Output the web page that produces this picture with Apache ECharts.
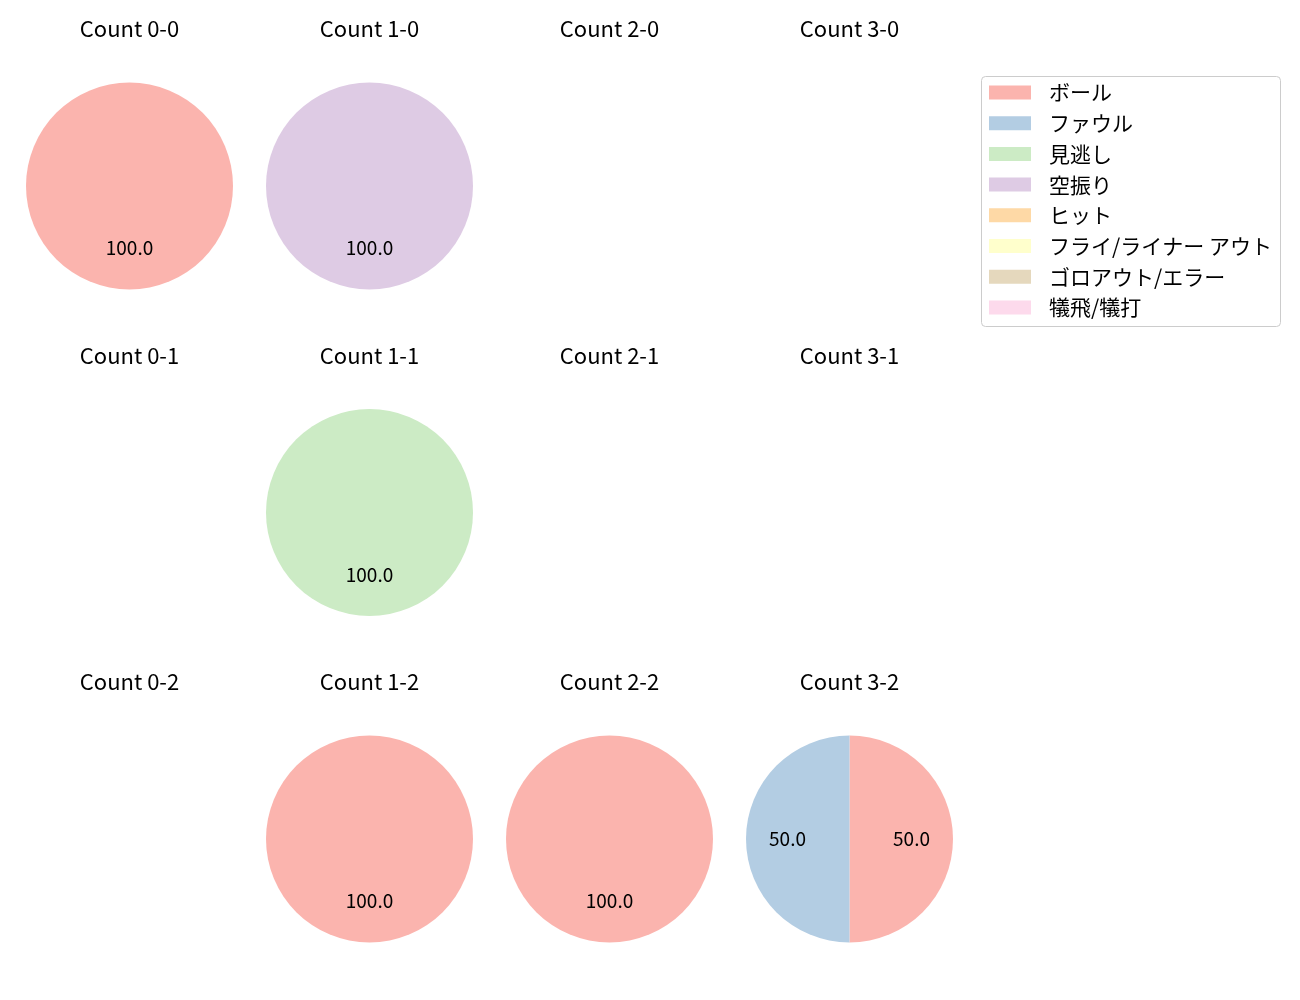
<!DOCTYPE html>
<html>
<head>
<meta charset="utf-8">
<script src="https://cdn.jsdelivr.net/npm/echarts@6/dist/echarts.min.js"></script>
<style>
  html, body { margin: 0; padding: 0; background: #fff; }
  #container { width: 1300px; height: 1000px; }
</style>
</head>
<body>
<div id="container"></div>
<script>
var categories = ['ボール', 'ファウル', '見逃し', '空振り', 'ヒット', 'フライ/ライナー アウト', 'ゴロアウト/エラー', '犠飛/犠打'];
var colors = ['#fbb4ae', '#b3cde3', '#ccebc5', '#decbe4', '#fed9a6', '#ffffcc', '#e5d8bd', '#fddaec'];

// one pie per count, row by row (strikes 0..2), columns balls 0..3
var counts = ['0-0', '1-0', '2-0', '3-0', '0-1', '1-1', '2-1', '3-1', '0-2', '1-2', '2-2', '3-2'];

// share (%) of each result per count, same order as counts
var ball       = [100, 0, 0, 0, 0, 0, 0, 0, 0, 100, 100, 50];
var foul       = [0, 0, 0, 0, 0, 0, 0, 0, 0, 0, 0, 50];
var called     = [0, 0, 0, 0, 0, 100, 0, 0, 0, 0, 0, 0];
var swinging   = [0, 100, 0, 0, 0, 0, 0, 0, 0, 0, 0, 0];
var hit        = [0, 0, 0, 0, 0, 0, 0, 0, 0, 0, 0, 0];
var flyOut     = [0, 0, 0, 0, 0, 0, 0, 0, 0, 0, 0, 0];
var groundOut  = [0, 0, 0, 0, 0, 0, 0, 0, 0, 0, 0, 0];
var sacrifice  = [0, 0, 0, 0, 0, 0, 0, 0, 0, 0, 0, 0];
var shares = [ball, foul, called, swinging, hit, flyOut, groundOut, sacrifice];

var chart = echarts.init(document.getElementById('container'));

var colX = [129.5, 369.5, 609.5, 849.5];
var rowY = [186, 512.5, 839];
var titleY = [29, 356, 682];
var R = 103.5;
var font = '"Noto Sans CJK JP", "Noto Sans", sans-serif';

var series = [];
var graphics = [];

// legend frame
graphics.push({
    type: 'rect',
    z: 0,
    shape: { x: 981.5, y: 76.5, width: 299, height: 250, r: 4 },
    style: { fill: '#fff', stroke: '#cccccc', lineWidth: 1 }
});

// hidden series so every category appears in the legend
series.push({
    type: 'pie',
    center: [-500, -500],
    radius: [0, 0],
    silent: true,
    stillShowZeroSum: false,
    label: { show: false },
    labelLine: { show: false },
    data: categories.map(function (c, k) {
        return { name: c, value: 0, itemStyle: { color: colors[k] } };
    })
});

counts.forEach(function (cnt, i) {
    var cx = colX[i % 4];
    var cy = rowY[Math.floor(i / 4)];

    graphics.push({
        type: 'text',
        x: cx,
        y: titleY[Math.floor(i / 4)],
        style: {
            text: 'Count ' + cnt,
            font: '22px ' + font,
            fill: '#000',
            textAlign: 'center',
            textVerticalAlign: 'middle'
        }
    });

    var data = [];
    categories.forEach(function (c, k) {
        if (shares[k][i] > 0) {
            data.push({ name: c, value: shares[k][i], itemStyle: { color: colors[k] } });
        }
    });
    if (!data.length) return;

    series.push({
        type: 'pie',
        center: [cx, cy],
        radius: [0, R],
        startAngle: 90,
        clockwise: true,
        animation: false,
        label: { show: false },
        labelLine: { show: false },
        itemStyle: { borderWidth: 0 },
        emphasis: { disabled: true },
        data: data
    });

    // transparent copy, slightly larger, so inside labels sit near 0.6 R
    series.push({
        type: 'pie',
        center: [cx, cy],
        radius: [0, R * 1.14],
        startAngle: 90,
        clockwise: true,
        silent: true,
        animation: false,
        itemStyle: { color: 'rgba(0,0,0,0)', borderWidth: 0 },
        emphasis: { disabled: true },
        label: {
            show: true,
            position: 'inside',
            color: '#000',
            fontSize: 19,
            fontFamily: font,
            formatter: function (p) { return p.percent.toFixed(1); }
        },
        labelLine: { show: false },
        data: data.map(function (d) { return { name: d.name, value: d.value }; })
    });
});

var option = {
    backgroundColor: '#fff',
    animation: false,
    legend: {
        data: categories,
        orient: 'vertical',
        left: 989,
        top: 82,
        padding: 0,
        icon: 'rect',
        itemWidth: 42,
        itemHeight: 14,
        itemGap: 9.7,
        selectedMode: false,
        textStyle: {
            fontSize: 21,
            fontFamily: font,
            color: '#000',
            padding: [0, 0, 0, 13]
        }
    },
    graphic: graphics,
    series: series
};
chart.setOption(option);

window.addEventListener('resize', function () {
    chart.resize();
});
</script>
</body>
</html>
